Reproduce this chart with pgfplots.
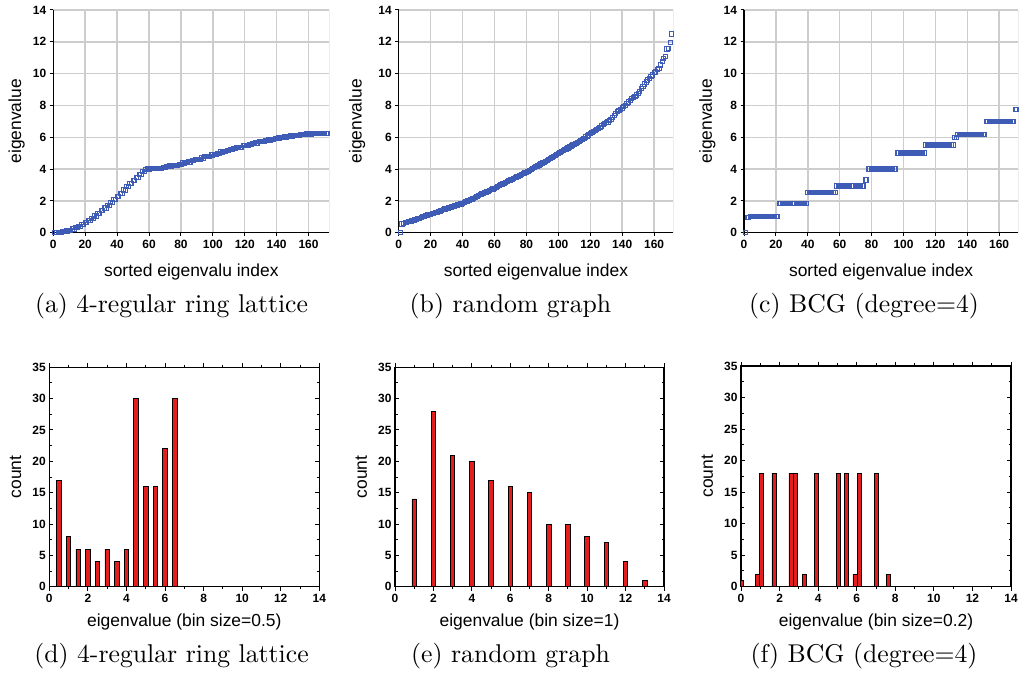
\documentclass[border=0pt]{standalone}
\usepackage{pgfplots}
\pgfplotsset{compat=1.18}
\usepackage{pgfplotstable}
\usepackage{fontspec}
\newfontfamily\arial{Liberation Sans}
\newfontfamily\capfont{lmroman10-regular}[Extension=.otf]

\definecolor{markblue}{RGB}{62,92,182}
\definecolor{barred}{RGB}{228,30,30}
\definecolor{gridgray}{RGB}{205,205,205}

% sorted Laplacian eigenvalues, 4-regular ring lattice
\pgfplotstableread[row sep=\\]{
y\\
0\\
0.0067\\ 0.0067\\ 0.0266\\ 0.0266\\ 0.0598\\ 0.0598\\ 0.1061\\ 0.1061\\
0.1653\\ 0.1653\\ 0.2370\\ 0.2370\\ 0.3209\\ 0.3209\\ 0.4168\\ 0.4168\\
0.5244\\ 0.5244\\ 0.6429\\ 0.6429\\ 0.7716\\ 0.7716\\ 0.9099\\ 0.9099\\
1.0575\\ 1.0575\\ 1.2138\\ 1.2138\\ 1.3783\\ 1.3783\\ 1.5499\\ 1.5499\\
1.7277\\ 1.7277\\ 1.9114\\ 1.9114\\ 2.0992\\ 2.0992\\ 2.2922\\ 2.2922\\
2.4874\\ 2.4874\\ 2.6853\\ 2.6853\\ 2.8835\\ 2.8835\\ 3.0840\\ 3.0840\\
3.2835\\ 3.2835\\ 3.4820\\ 3.4820\\ 3.6784\\ 3.6784\\ 3.8724\\ 3.8724\\
4.0000\\
4.0040\\ 4.0040\\ 4.0160\\ 4.0160\\ 4.0358\\ 4.0358\\ 4.0628\\ 4.0628\\
4.0635\\ 4.0635\\ 4.0987\\ 4.0987\\ 4.1412\\ 4.1412\\ 4.1908\\ 4.1908\\
4.2472\\ 4.2472\\ 4.2492\\ 4.2492\\ 4.3099\\ 4.3099\\ 4.3785\\ 4.3785\\
4.4303\\ 4.4303\\ 4.4525\\ 4.4525\\ 4.5317\\ 4.5317\\ 4.6061\\ 4.6061\\
4.6149\\ 4.6149\\ 4.7022\\ 4.7022\\ 4.7748\\ 4.7748\\ 4.7926\\ 4.7926\\
4.8858\\ 4.8858\\ 4.9372\\ 4.9372\\ 4.9809\\ 4.9809\\ 5.0777\\ 5.0777\\
5.0917\\ 5.0917\\ 5.1736\\ 5.1736\\ 5.2383\\ 5.2383\\ 5.2718\\ 5.2718\\
5.3672\\ 5.3672\\ 5.3760\\ 5.3760\\ 5.4621\\ 5.4621\\ 5.5048\\ 5.5048\\
5.5525\\ 5.5525\\ 5.6240\\ 5.6240\\ 5.6428\\ 5.6428\\ 5.7282\\ 5.7282\\
5.7334\\ 5.7334\\ 5.8094\\ 5.8094\\ 5.8326\\ 5.8326\\ 5.8855\\ 5.8855\\
5.9216\\ 5.9216\\ 5.9562\\ 5.9562\\ 6.0000\\ 6.0000\\ 6.0206\\ 6.0206\\
6.0677\\ 6.0677\\ 6.0782\\ 6.0782\\ 6.1247\\ 6.1247\\ 6.1282\\ 6.1282\\
6.1704\\ 6.1704\\ 6.1709\\ 6.1709\\ 6.2040\\ 6.2040\\ 6.2064\\ 6.2064\\
6.2287\\ 6.2287\\ 6.2313\\ 6.2313\\ 6.2442\\ 6.2442\\ 6.2458\\ 6.2458\\
6.2500\\ 6.2500\\
}\ringdata

% sorted Laplacian eigenvalues, random graph
\pgfplotstableread[row sep=\\]{
y\\
0\\
0.55\\ 0.60\\ 0.63\\ 0.66\\ 0.69\\ 0.71\\ 0.74\\ 0.77\\ 0.80\\ 0.84\\ 0.88\\ 0.92\\ 0.96\\
1.00\\ 1.04\\ 1.08\\ 1.11\\ 1.14\\ 1.17\\ 1.20\\ 1.23\\ 1.26\\ 1.29\\
1.33\\ 1.37\\ 1.41\\ 1.45\\ 1.49\\ 1.53\\ 1.56\\ 1.59\\ 1.62\\ 1.65\\
1.68\\ 1.71\\ 1.74\\ 1.77\\ 1.81\\ 1.85\\ 1.90\\ 1.95\\
2.00\\ 2.04\\ 2.08\\ 2.12\\ 2.17\\ 2.22\\ 2.28\\ 2.33\\ 2.38\\ 2.43\\
2.48\\ 2.52\\ 2.56\\ 2.61\\ 2.66\\ 2.70\\ 2.75\\ 2.80\\ 2.85\\ 2.90\\ 2.95\\
3.01\\ 3.06\\ 3.11\\ 3.16\\ 3.21\\ 3.26\\ 3.31\\ 3.36\\ 3.41\\ 3.46\\
3.51\\ 3.56\\ 3.61\\ 3.66\\ 3.71\\ 3.76\\ 3.81\\ 3.86\\ 3.91\\ 3.96\\
4.02\\ 4.08\\ 4.14\\ 4.20\\ 4.26\\ 4.32\\ 4.38\\ 4.44\\ 4.50\\
4.56\\ 4.62\\ 4.68\\ 4.74\\ 4.80\\ 4.86\\ 4.92\\ 4.97\\
5.03\\ 5.09\\ 5.15\\ 5.21\\ 5.27\\ 5.33\\ 5.39\\ 5.45\\
5.51\\ 5.57\\ 5.63\\ 5.69\\ 5.75\\ 5.81\\ 5.87\\ 5.94\\
6.02\\ 6.08\\ 6.15\\ 6.22\\ 6.29\\ 6.36\\ 6.43\\ 6.50\\
6.57\\ 6.64\\ 6.71\\ 6.78\\ 6.85\\ 6.91\\ 6.96\\
7.05\\ 7.12\\ 7.22\\ 7.35\\ 7.50\\ 7.60\\ 7.68\\ 7.76\\ 7.84\\ 7.92\\
8.02\\ 8.12\\ 8.22\\ 8.32\\ 8.42\\ 8.50\\ 8.58\\ 8.66\\ 8.76\\ 8.88\\
9.05\\ 9.20\\ 9.35\\ 9.48\\ 9.60\\ 9.72\\ 9.82\\ 9.92\\
10.05\\ 10.10\\ 10.25\\ 10.30\\ 10.55\\ 10.75\\ 10.95\\
11.10\\ 11.55\\ 11.60\\ 11.95\\
12.50\\
}\randdata

% sorted Laplacian eigenvalues, BCG (degree=4)
\pgfplotstableread[row sep=\\]{
y\\
0\\
0.94\\ 0.94\\
1.02\\ 1.02\\ 1.02\\ 1.02\\ 1.02\\ 1.02\\ 1.02\\ 1.02\\ 1.02\\
1.02\\ 1.02\\ 1.02\\ 1.02\\ 1.02\\ 1.02\\ 1.02\\ 1.02\\ 1.02\\
1.82\\ 1.82\\ 1.82\\ 1.82\\ 1.82\\ 1.82\\ 1.82\\ 1.82\\ 1.82\\
1.82\\ 1.82\\ 1.82\\ 1.82\\ 1.82\\ 1.82\\ 1.82\\ 1.82\\ 1.82\\
2.53\\ 2.53\\ 2.53\\ 2.53\\ 2.53\\ 2.53\\ 2.53\\ 2.53\\ 2.53\\
2.53\\ 2.53\\ 2.53\\ 2.53\\ 2.53\\ 2.53\\ 2.53\\ 2.53\\ 2.53\\
2.94\\ 2.94\\ 2.94\\ 2.94\\ 2.94\\ 2.94\\ 2.94\\ 2.94\\ 2.94\\
2.94\\ 2.94\\ 2.94\\ 2.94\\ 2.94\\ 2.94\\ 2.94\\ 2.94\\ 2.94\\
3.32\\ 3.32\\
4.01\\ 4.01\\ 4.01\\ 4.01\\ 4.01\\ 4.01\\ 4.01\\ 4.01\\ 4.01\\
4.01\\ 4.01\\ 4.01\\ 4.01\\ 4.01\\ 4.01\\ 4.01\\ 4.01\\ 4.01\\
5.01\\ 5.01\\ 5.01\\ 5.01\\ 5.01\\ 5.01\\ 5.01\\ 5.01\\ 5.01\\
5.01\\ 5.01\\ 5.01\\ 5.01\\ 5.01\\ 5.01\\ 5.01\\ 5.01\\ 5.01\\
5.51\\ 5.51\\ 5.51\\ 5.51\\ 5.51\\ 5.51\\ 5.51\\ 5.51\\ 5.51\\
5.51\\ 5.51\\ 5.51\\ 5.51\\ 5.51\\ 5.51\\ 5.51\\ 5.51\\ 5.51\\
5.99\\ 5.99\\
6.18\\ 6.18\\ 6.18\\ 6.18\\ 6.18\\ 6.18\\ 6.18\\ 6.18\\ 6.18\\
6.18\\ 6.18\\ 6.18\\ 6.18\\ 6.18\\ 6.18\\ 6.18\\ 6.18\\ 6.18\\
6.99\\ 6.99\\ 6.99\\ 6.99\\ 6.99\\ 6.99\\ 6.99\\ 6.99\\ 6.99\\
6.99\\ 6.99\\ 6.99\\ 6.99\\ 6.99\\ 6.99\\ 6.99\\ 6.99\\ 6.99\\
7.75\\ 7.75\\
}\bcgdata

\pgfplotsset{
  spectrum/.style={
    scale only axis, anchor=south west, height=222.7bp,
    xmin=0, xmax=172, ymin=0, ymax=14,
    axis lines*=left, axis line style={-, line width=1.2bp},
    xtick={0,20,...,160}, ytick={0,2,...,14},
    tick align=outside, major tick length=3.5bp,
    tick style={black, line width=1bp},
    grid=major, major grid style={gridgray, line width=1.5bp},
    /pgf/number format/assume math mode=true,
    ticklabel style={font=\arial\bfseries\fontsize{12}{12}\selectfont},
    label style={font=\arial\fontsize{17.5}{18}\selectfont},
    xlabel style={at={(axis description cs:0.5,-0.175)}, anchor=center},
    ylabel={eigenvalue},
  },
  eigmarks/.style={only marks, mark=square, mark size=2.1bp, color=markblue,
    mark options={line width=0.9bp}},
  histo/.style={
    scale only axis, anchor=south west, height=219.4bp, width=270bp,
    xmin=0, xmax=14, ymin=0, ymax=35,
    xtick={0,2,...,14}, ytick={0,5,...,35},
    minor x tick num=1, minor y tick num=1,
    tick align=inside, major tick length=4bp, minor tick length=2.5bp,
    axis line style={line width=1.2bp},
    tick style={black, line width=1bp},
    /pgf/number format/assume math mode=true,
    ticklabel style={font=\arial\bfseries\fontsize{12}{12}\selectfont},
    label style={font=\arial\fontsize{17.5}{18}\selectfont},
    xlabel style={at={(axis description cs:0.5,-0.16)}, anchor=center},
    ylabel style={at={(axis description cs:-0.125,0.5)}, anchor=center},
    ylabel={count},
    ybar, bar width=4.5bp,
  },
  bars/.style={fill=barred, draw=black, line width=0.8bp},
}

\begin{document}
\begin{tikzpicture}
\useasboundingbox (0,0) rectangle (1020bp,682bp);

% (a) ring lattice spectrum
\begin{axis}[spectrum, at={(53.3bp,449.3bp)}, width=276bp, xmax=173,
  xlabel={sorted eigenvalu index},
  ylabel style={at={(axis description cs:-0.1325,0.5)}, anchor=center}]
  \addplot[eigmarks] table[x expr=\coordindex+1, y=y] {\ringdata};
  \draw[gridgray, line width=1.5bp] (rel axis cs:1,0) -- (rel axis cs:1,1);
\end{axis}

% (b) random graph spectrum
\begin{axis}[spectrum, at={(398.7bp,449.3bp)}, width=274.6bp,
  xlabel={sorted eigenvalue index},
  ylabel style={at={(axis description cs:-0.151,0.5)}, anchor=center}]
  \addplot[eigmarks] table[x expr=\coordindex+1, y=y] {\randdata};
  \draw[gridgray, line width=1.5bp] (rel axis cs:1,0) -- (rel axis cs:1,1);
\end{axis}

% (c) BCG spectrum
\begin{axis}[spectrum, at={(744bp,449.3bp)}, width=274.3bp,
  xlabel={sorted eigenvalue index},
  ylabel style={at={(axis description cs:-0.134,0.5)}, anchor=center}]
  \addplot[eigmarks] table[x expr=\coordindex+1, y=y] {\bcgdata};
  \draw[gridgray, line width=1.5bp] (rel axis cs:1,0) -- (rel axis cs:1,1);
\end{axis}

% (d) histogram, bin size 0.5
\begin{axis}[histo, at={(49.3bp,95.3bp)}, xlabel={eigenvalue (bin size=0.5)}]
  \addplot[bars] coordinates {
    (0.5,17) (1.0,8) (1.5,6) (2.0,6) (2.5,4) (3.0,6) (3.5,4)
    (4.0,6) (4.5,30) (5.0,16) (5.5,16) (6.0,22) (6.5,30)};
\end{axis}

% (e) histogram, bin size 1
\begin{axis}[histo, at={(395bp,95.3bp)}, width=269bp, xlabel={eigenvalue (bin size=1)}]
  \addplot[bars] coordinates {
    (1,14) (2,28) (3,21) (4,20) (5,17) (6,16) (7,15)
    (8,10) (9,10) (10,8) (11,7) (12,4) (13,1)};
\end{axis}

% (f) histogram, bin size 0.2
\begin{axis}[histo, at={(741bp,95.3bp)}, height=220.7bp, bar width=4bp,
  xlabel={eigenvalue (bin size=0.2)}]
  \addplot[bars] coordinates {
    (0,1) (0.85,2) (1.07,18) (1.71,18) (2.59,18) (2.83,18) (3.27,2)
    (3.92,18) (5.03,18) (5.46,18) (5.91,2) (6.12,18) (7.00,18) (7.66,2)};
\end{axis}

% sub-captions
\begin{scope}[every node/.style={font=\capfont\fontsize{25.8}{30}\selectfont, inner sep=0pt}]
  \node at (171.5bp,376bp) {(a) 4-regular ring lattice};
  \node at (510.5bp,376bp) {(b) random graph};
  \node at (864bp,376bp) {(c) BCG (degree=4)};
  \node at (171.5bp,26bp) {(d) 4-regular ring lattice};
  \node at (510.5bp,26bp) {(e) random graph};
  \node at (864bp,26bp) {(f) BCG (degree=4)};
\end{scope}
\end{tikzpicture}
\end{document}
